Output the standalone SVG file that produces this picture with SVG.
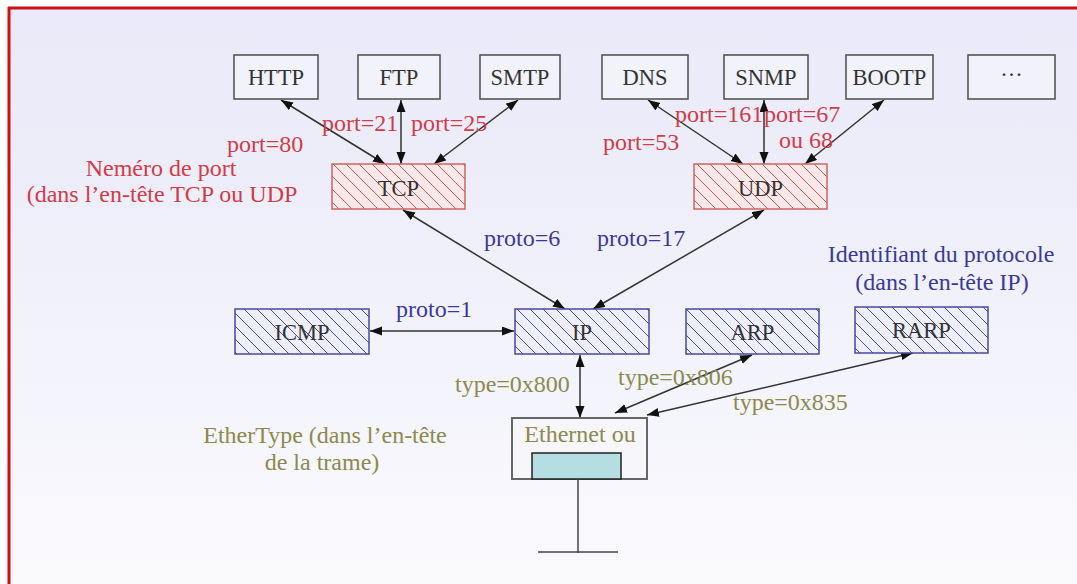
<svg xmlns="http://www.w3.org/2000/svg" width="1077" height="584" viewBox="0 0 1077 584">
<defs>
<linearGradient id="bg" x1="0" y1="0" x2="0" y2="1">
<stop offset="0" stop-color="#e9e9f9"/>
<stop offset="0.5" stop-color="#f1f1fb"/>
<stop offset="1" stop-color="#fafafd"/>
</linearGradient>
<pattern id="hatchR" patternUnits="userSpaceOnUse" width="13" height="13">
<rect width="13" height="13" fill="#fbe8e8"/>
<path d="M-1,-1 L14,14 M-1,12 L1,14 M12,-1 L14,1" stroke="#c85a5a" stroke-width="1"/>
</pattern>
<pattern id="hatchB" patternUnits="userSpaceOnUse" width="13" height="13">
<rect width="13" height="13" fill="#efeffa"/>
<path d="M-1,-1 L14,14 M-1,12 L1,14 M12,-1 L14,1" stroke="#4a4a9a" stroke-width="1"/>
</pattern>
<marker id="ah" markerUnits="userSpaceOnUse" markerWidth="13" markerHeight="10" refX="12" refY="4.5" orient="auto-start-reverse">
<path d="M0,0 L12,4.5 L0,9 z" fill="#111"/>
</marker>
</defs>
<style>
text{font-family:"Liberation Serif","Times New Roman",serif;font-size:24px}
.box{fill:#f2f2fb;stroke:#555;stroke-width:1.6}
.hr{fill:url(#hatchR);stroke:#cc6666;stroke-width:1.5}
.hb{fill:url(#hatchB);stroke:#4a4a9a;stroke-width:1.5}
.nt{fill:#333;text-anchor:middle;font-size:22.5px}
.red{fill:#d23c46}
.blue{fill:#3a3a96}
.olive{fill:#8c8a4e}
.c{stroke:#333;stroke-width:1.5;fill:none;marker-start:url(#ah);marker-end:url(#ah)}
</style>
<rect x="0" y="0" width="1077" height="584" fill="#ffffff"/>
<rect x="9" y="9" width="1068" height="575" fill="url(#bg)"/>
<line x1="8" y1="8" x2="1077" y2="8" stroke="#d01010" stroke-width="3"/>
<line x1="9" y1="7" x2="9" y2="584" stroke="#d01010" stroke-width="3"/>

<g id="connectors">
<line class="c" x1="281" y1="100" x2="385" y2="164"/>
<line class="c" x1="401" y1="100" x2="401" y2="164"/>
<line class="c" x1="518" y1="100" x2="434" y2="164"/>
<line class="c" x1="648" y1="100" x2="743" y2="164"/>
<line class="c" x1="764" y1="100" x2="764" y2="164"/>
<line class="c" x1="884" y1="100" x2="805" y2="164"/>
<line class="c" x1="403" y1="210" x2="565" y2="309"/>
<line class="c" x1="764" y1="210" x2="593" y2="309"/>
<line class="c" x1="370" y1="331" x2="514" y2="331"/>
<line class="c" x1="580" y1="355" x2="580" y2="418"/>
<line class="c" x1="615" y1="413" x2="752" y2="355"/>
<line class="c" x1="647" y1="415" x2="913" y2="353"/>
</g>

<g id="HTTP"><rect class="box" x="234" y="55" width="84" height="44"/><text class="nt" x="276" y="85">HTTP</text></g>
<g id="FTP"><rect class="box" x="358" y="55" width="82" height="44"/><text class="nt" x="399" y="85">FTP</text></g>
<g id="SMTP"><rect class="box" x="480" y="55" width="80" height="44"/><text class="nt" x="520" y="85">SMTP</text></g>
<g id="DNS"><rect class="box" x="602" y="55" width="86" height="44"/><text class="nt" x="645" y="85">DNS</text></g>
<g id="SNMP"><rect class="box" x="724" y="55" width="84" height="44"/><text class="nt" x="766" y="85">SNMP</text></g>
<g id="BOOTP"><rect class="box" x="846" y="55" width="87" height="44"/><text class="nt" x="889.5" y="85">BOOTP</text></g>
<g id="MORE"><rect class="box" x="968" y="55" width="87" height="44"/><text class="nt" x="1011.5" y="82">···</text></g>

<g id="TCP"><rect class="hr" x="332" y="164" width="133" height="45"/><text class="nt" x="398.5" y="196">TCP</text></g>
<g id="UDP"><rect class="hr" x="694" y="164" width="133" height="45"/><text class="nt" x="760.5" y="196">UDP</text></g>

<g id="ICMP"><rect class="hb" x="235" y="309" width="134" height="45"/><text class="nt" x="302" y="340">ICMP</text></g>
<g id="IP"><rect class="hb" x="515" y="309" width="134" height="45"/><text class="nt" x="582" y="340">IP</text></g>
<g id="ARP"><rect class="hb" x="686" y="309" width="133" height="45"/><text class="nt" x="752.5" y="340">ARP</text></g>
<g id="RARP"><rect class="hb" x="855" y="307" width="133" height="46"/><text class="nt" x="921.5" y="338">RARP</text></g>

<g id="Ethernet">
<rect x="512" y="418" width="135" height="61" fill="#f6f6fb" stroke="#666" stroke-width="2"/>
<rect x="532" y="453" width="89" height="26" fill="#b4dee2" stroke="#222" stroke-width="1.5"/>
<text class="olive" x="580" y="442" text-anchor="middle" font-size="23">Ethernet ou</text>
<line x1="578" y1="479" x2="578" y2="553" stroke="#444" stroke-width="1.5"/>
<line x1="538" y1="552" x2="618" y2="552" stroke="#444" stroke-width="1.5"/>
</g>

<g id="labels">
<text class="red" x="227" y="152">port=80</text>
<text class="red" x="322" y="131">port=21</text>
<text class="red" x="411" y="131">port=25</text>
<text class="red" x="603" y="150">port=53</text>
<text class="red" x="675" y="122">port=161</text>
<text class="red" x="764" y="122">port=67</text>
<text class="red" x="779" y="148">ou 68</text>
<text class="red" x="161" y="176" text-anchor="middle">Neméro de port</text>
<text class="red" x="162" y="202" text-anchor="middle">(dans l’en-tête TCP ou UDP</text>
<text class="blue" x="484" y="246">proto=6</text>
<text class="blue" x="597" y="246">proto=17</text>
<text class="blue" x="396" y="317">proto=1</text>
<text class="blue" x="941" y="262" text-anchor="middle">Identifiant du protocole</text>
<text class="blue" x="942" y="290" text-anchor="middle">(dans l’en-tête IP)</text>
<text class="olive" x="455" y="392">type=0x800</text>
<text class="olive" x="618" y="385">type=0x806</text>
<text class="olive" x="733" y="410">type=0x835</text>
<text class="olive" x="325" y="443" text-anchor="middle">EtherType (dans l’en-tête</text>
<text class="olive" x="322" y="470" text-anchor="middle">de la trame)</text>
</g>
</svg>
